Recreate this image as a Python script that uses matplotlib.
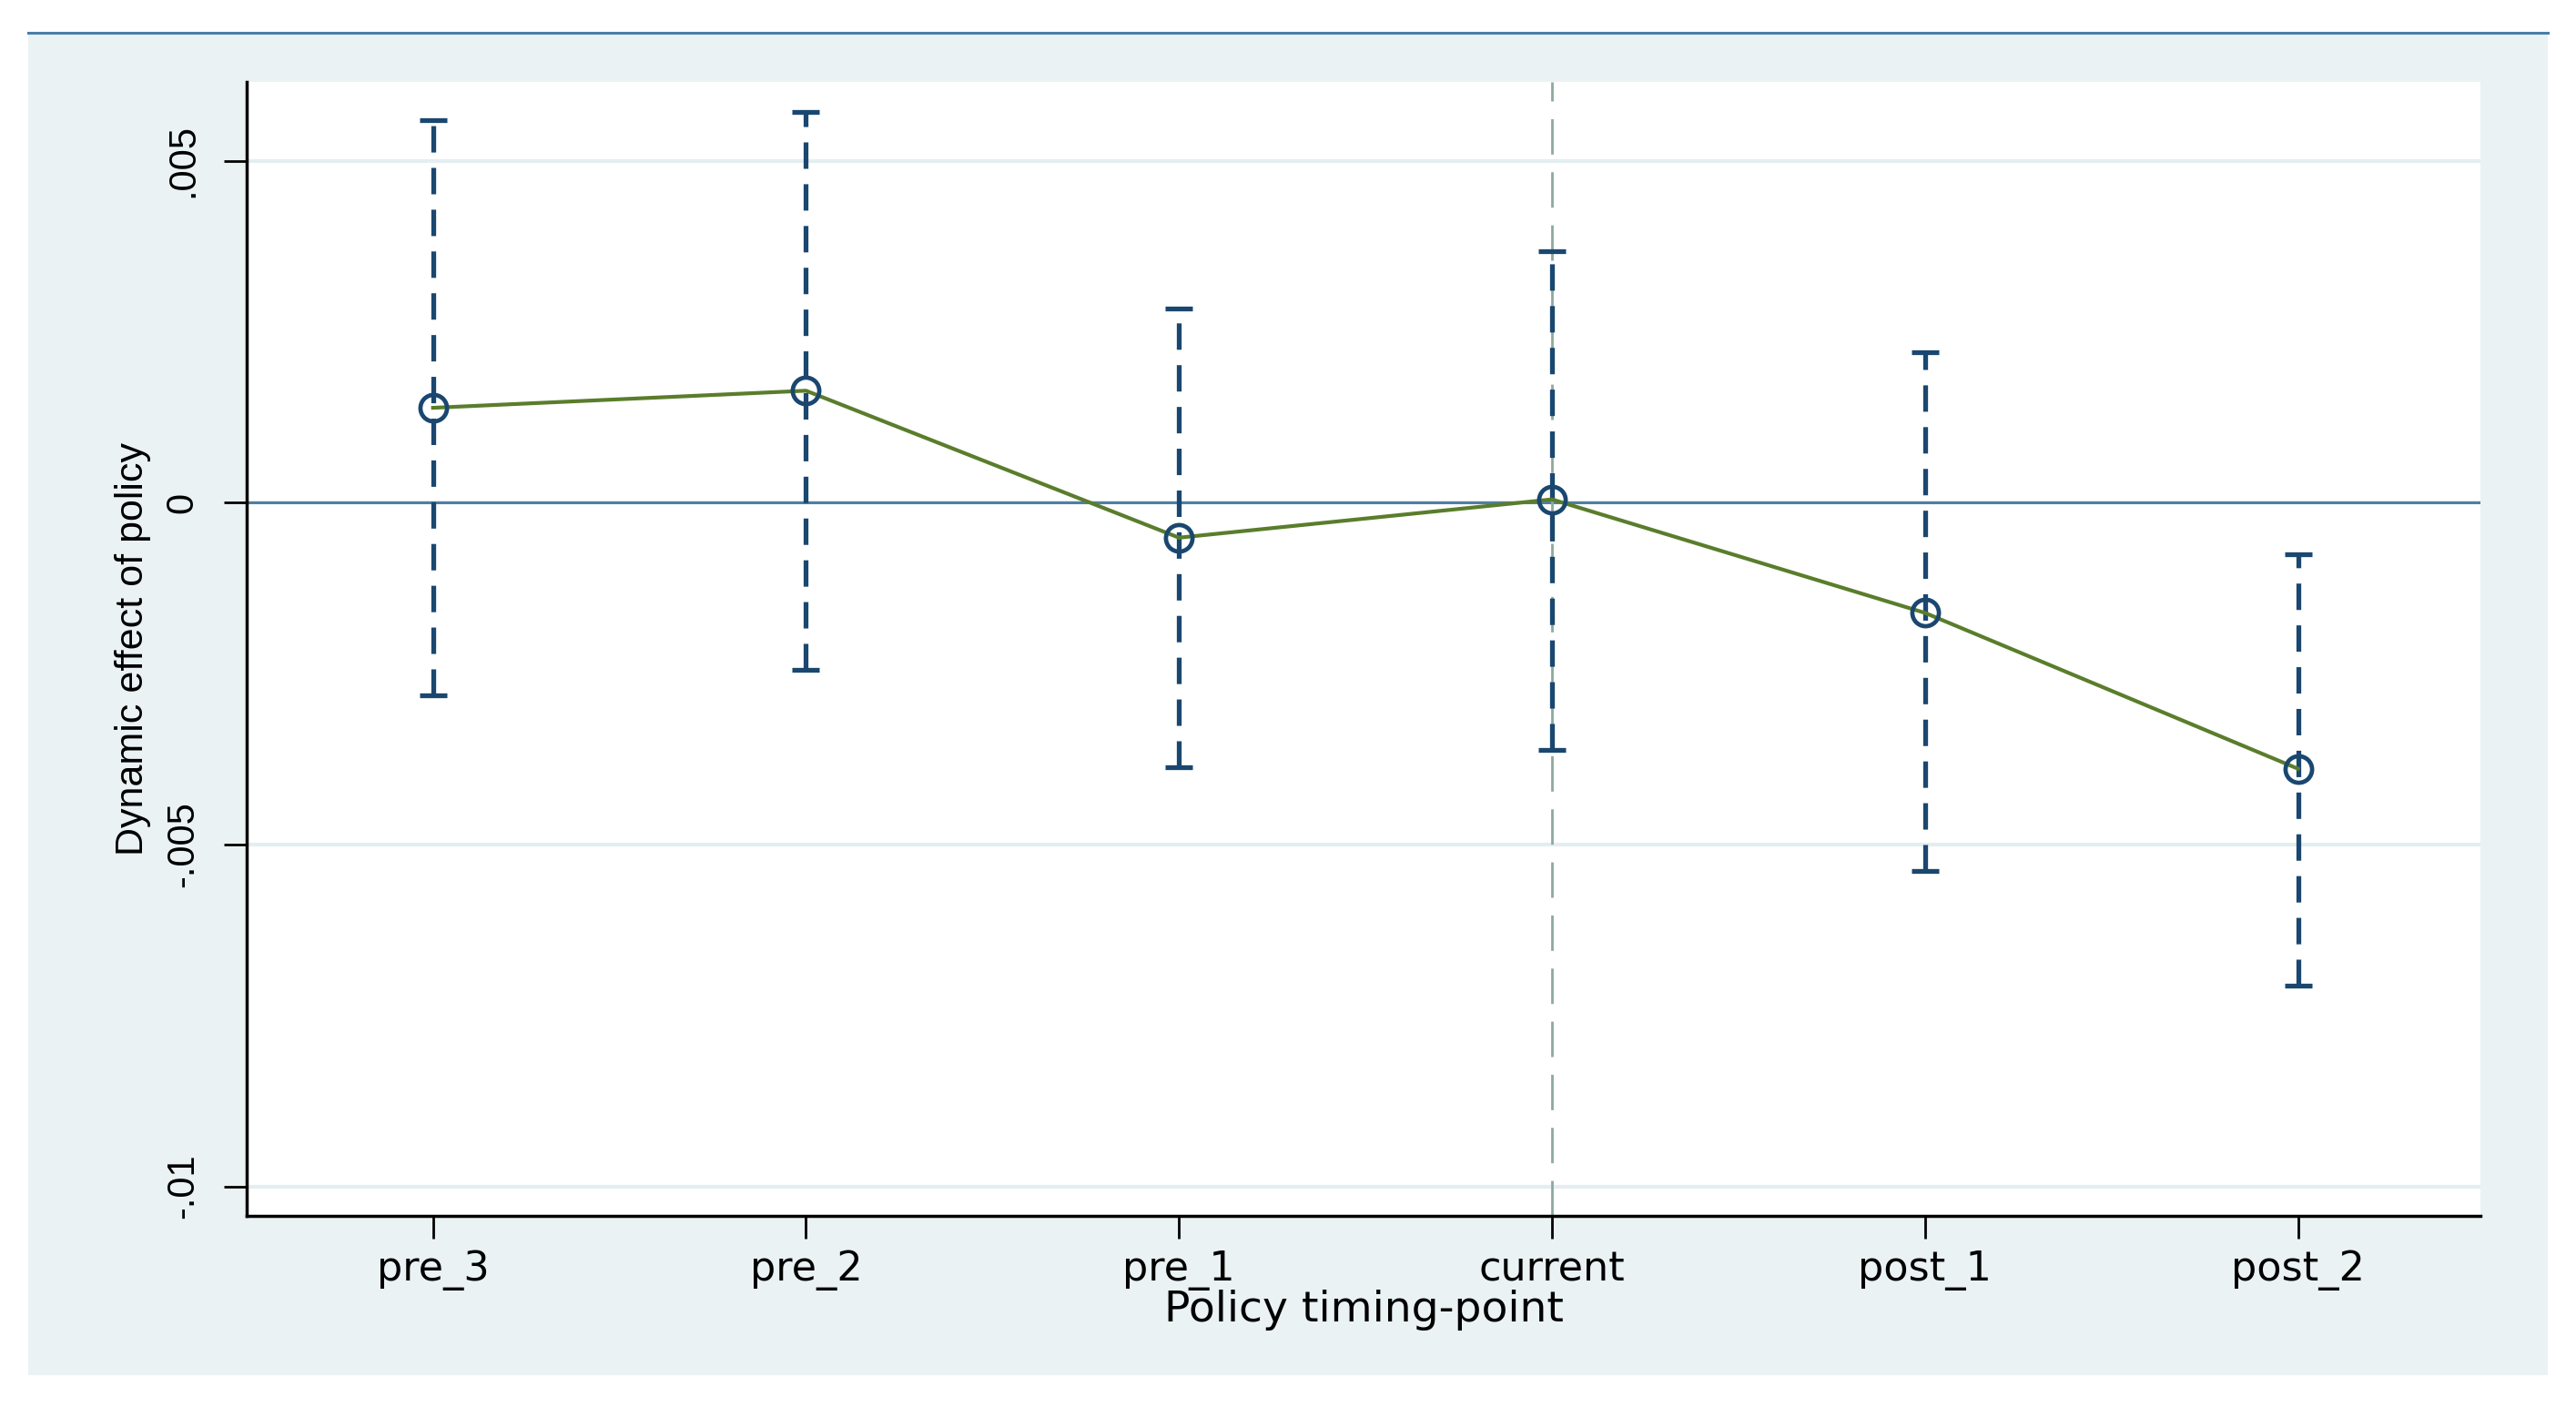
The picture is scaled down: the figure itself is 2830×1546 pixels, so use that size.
import numpy as np
import matplotlib.pyplot as plt
from matplotlib.patches import Rectangle
from matplotlib.lines import Line2D

periods = ["pre_3", "pre_2", "pre_1", "current", "post_1", "post_2"]
coef = [0.00139, 0.00164, -0.00051, 0.00005, -0.00161, -0.00389]
ci_upper = [0.00560, 0.00572, 0.00284, 0.00368, 0.00221, -0.00075]
ci_lower = [-0.00281, -0.00245, -0.00387, -0.00361, -0.00539, -0.00707]
yticks = [-0.01, -0.005, 0, 0.005]
ytick_labels = ["-.01", "-.005", "0", ".005"]

navy = "#1a476f"
green = "#5a7d2c"
panel = "#eaf2f3"

x = np.arange(len(periods))
coef = np.array(coef)
err = [coef - np.array(ci_lower), np.array(ci_upper) - coef]

fig = plt.figure(figsize=(28.3, 15.46), dpi=100, facecolor="white")

# light background panel with blue top rule
fig.patches.append(Rectangle((0.011, 0.0226), 0.978, 0.9544, transform=fig.transFigure,
                             facecolor=panel, edgecolor="none", zorder=-10))
fig.lines.append(Line2D([0.011, 0.989], [0.9767, 0.9767], transform=fig.transFigure,
                        color="#4a7fa8", lw=2.2, zorder=-5))

ax = fig.add_axes([0.0957, 0.1358, 0.8673, 0.8058])
ax.set_zorder(1)
ax.set_facecolor("white")

ax.set_xlim(-0.5, 5.49)
ax.set_ylim(-0.010433, 0.006154)

# grid
for yt in yticks:
    ax.axhline(yt, color="#e4eef0", lw=3, zorder=1)
ax.axhline(0, color="#4f7fa3", lw=2.2, zorder=2)
ax.axvline(x[3], color="#8ea89e", lw=2, dashes=(14, 7), zorder=2)

eb = ax.errorbar(x, coef, yerr=err, fmt="none", ecolor=navy, elinewidth=3.8,
                 capsize=11, capthick=3.8, zorder=3)
eb[2][0].set_linestyle((0, (5.5, 3.2)))

ax.plot(x, coef, color=green, lw=3, zorder=4)
ax.plot(x, coef, "o", ms=21, mfc="none", mec=navy, mew=3.4, zorder=5)

ax.set_xticks(x)
ax.set_xticklabels(periods, fontsize=32, family="DejaVu Sans")
ax.set_yticks(yticks)
ax.set_yticklabels(ytick_labels, rotation=90, va="center", fontsize=30,
                   family="Liberation Sans")
ax.tick_params(axis="x", length=18, width=2, pad=9)
ax.tick_params(axis="y", length=18, width=2, pad=18)

ax.set_xlabel("Policy timing-point", fontsize=34, family="DejaVu Sans", labelpad=-1)
ax.set_ylabel("Dynamic effect of policy", fontsize=31, family="Liberation Sans", labelpad=11)

for s in ["top", "right"]:
    ax.spines[s].set_visible(False)
ax.spines["left"].set_linewidth(2.5)
ax.spines["bottom"].set_linewidth(2.5)

fig.savefig("out.png", dpi=100, facecolor="white")
